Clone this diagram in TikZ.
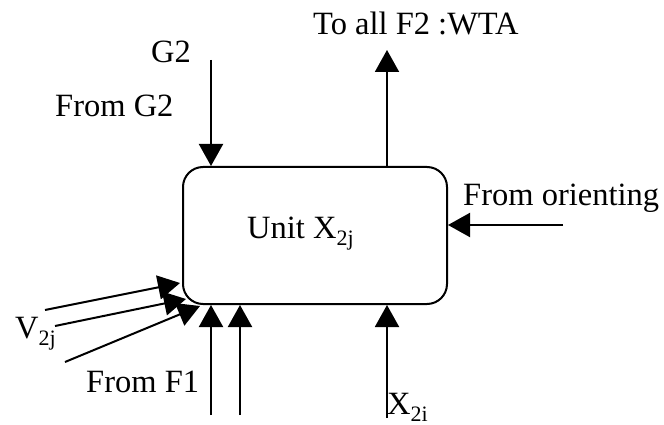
\documentclass[tikz,border=0pt]{standalone}
\usepackage{fontspec}
\setmainfont{Liberation Serif}
\usetikzlibrary{arrows.meta}
\newcommand{\mysub}[1]{\raisebox{-7pt}{\fontsize{22}{24}\selectfont #1}}
\tikzset{
  lbl/.style={anchor=base west, inner sep=0pt, font=\fontsize{32.5}{38}\selectfont},
  arr/.style={line width=2pt, -{Triangle[width=24pt,length=22pt]}},
  unitbox/.style={draw, line width=2pt, rounded corners=20pt, minimum width=264pt, minimum height=137pt, inner sep=0pt}
}
\begin{document}
\begin{tikzpicture}[x=1pt,y=-1pt]
\useasboundingbox (0,0) rectangle (664,425);
\node[unitbox] (unit) at (315,235.5) {};
\node[lbl] (unitlbl) at (247,238) {Unit X\mysub{2j}};
% labels
\node[lbl] (g2) at (151,63) {G2};
\node[lbl] (fromg2) at (55,117) {From G2};
\node[lbl] (toall) at (313,35) {To all F2 :WTA};
\node[lbl] (fromor) at (463,205) {From orienting};
\node[lbl] (v2j) at (15,338) {V\mysub{2j}};
\node[lbl] (fromf1) at (86,392) {From F1};
\node[lbl] (x2i) at (387,414) {X\mysub{2i}};
% free ends
\coordinate (g2s) at (211,60);
\coordinate (wta) at (387,50);
\coordinate (ors) at (563,225);
\coordinate (b1) at (211,415);
\coordinate (b2) at (240,415);
\coordinate (b3) at (387,418);
\coordinate (v1s) at (45,310);
\coordinate (v1e) at (180,283);
\coordinate (v2s) at (55,326);
\coordinate (v2e) at (186,299);
\coordinate (v3s) at (65,362);
\coordinate (v3e) at (200,306);
% arrows
\draw[arr] (g2s) -- (g2s |- unit.north);
\draw[arr] (wta |- unit.north) -- (wta);
\draw[arr] (ors) -- (ors -| unit.east);
\draw[arr] (b1) -- (b1 |- unit.south);
\draw[arr] (b2) -- (b2 |- unit.south);
\draw[arr] (b3) -- (b3 |- unit.south);
\draw[arr] (v1s) -- (v1e);
\draw[arr] (v2s) -- (v2e);
\draw[arr] (v3s) -- (v3e);
\end{tikzpicture}
\end{document}
